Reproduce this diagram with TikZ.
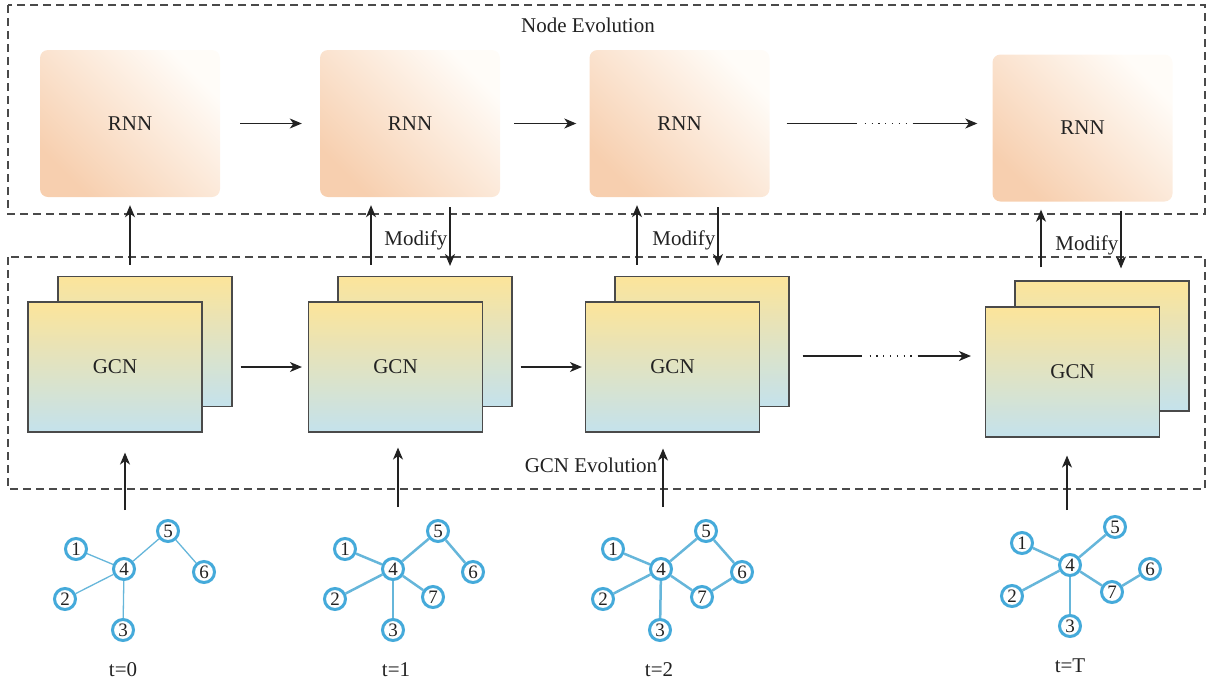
\documentclass[tikz,border=0pt]{standalone}
\usepackage{fontspec}
\setmainfont{Liberation Serif}
\usepackage{tikz}
\usetikzlibrary{arrows.meta,calc}
\usepackage{xcolor}
\definecolor{peach}{HTML}{F7CFAF}
\definecolor{peachlight}{HTML}{FFFCF8}
\definecolor{gcntop}{HTML}{FCE49A}
\definecolor{gcnbottom}{HTML}{C4E2EC}
\definecolor{boxgray}{HTML}{4A4A4A}
\definecolor{ringblue}{HTML}{45AADA}
\definecolor{edgeblue}{HTML}{66B6DA}
\definecolor{inkdark}{HTML}{222222}

\begin{document}
\begin{tikzpicture}[x=1pt, y=-1pt, font=\fontsize{21}{25}\selectfont, text=inkdark,
  rnn/.style={align=center, rounded corners=8pt, minimum width=180pt, minimum height=147pt,
    left color=peach, right color=peachlight, shading angle=135},
  gcn/.style={draw=boxgray, line width=1.1pt, minimum width=174pt, minimum height=130pt,
    top color=gcntop, bottom color=gcnbottom},
  vertex/.style={circle, draw=ringblue, line width=3pt, fill=white, inner sep=0pt,
    minimum size=21pt, font=\fontsize{19}{21}\selectfont},
  link/.style={draw=edgeblue, line width=2.5pt},
  thinlink/.style={draw=edgeblue, line width=1.3pt},
  frame/.style={draw=boxgray, line width=1.2pt, dash pattern=on 8pt off 5pt},
  transfer/.style={-{Stealth[length=12pt, width=10pt, inset=3.5pt]}, draw=inkdark, line width=1.3pt},
  dotgap/.style={dash pattern=on #1 off 8pt on 1.2pt off 5.6pt on 1.2pt off 5.6pt on 1.2pt off 5.6pt
    on 1.2pt off 5.6pt on 1.2pt off 5.6pt on 1.2pt off 5.6pt on 1.2pt off 6pt on 300pt},
]
\useasboundingbox (0,0) rectangle (1208,681);

\draw[frame] (8,5) rectangle (1205,214);
\draw[frame] (8,257) rectangle (1205,489);
\node (nodeevo) at (588,25) {Node Evolution};
\node (gcnevo) at (591,465) {GCN Evolution};

\node[rnn] (rnn1) at (130,123.5) {RNN};
\node[rnn] (rnn2) at (410,123.5) {RNN};
\node[rnn] (rnn3) at (679.5,123.5) {RNN};
\node[rnn] (rnn4) at (1082.5,128) {RNN};

\node[gcn] (gcnback1) at (145,341.5) {};
\node[gcn] (gcn1) at (115,367) {GCN};
\node[gcn] (gcnback2) at (425,341.5) {};
\node[gcn] (gcn2) at (395.5,367) {GCN};
\node[gcn] (gcnback3) at (702,341.5) {};
\node[gcn] (gcn3) at (672.5,367) {GCN};
\node[gcn] (gcnback4) at (1102,346) {};
\node[gcn] (gcn4) at (1072.5,372) {GCN};

\draw[transfer, shorten <=20pt, shorten >=18pt] (rnn1) -- (rnn2);
\draw[transfer, shorten <=14pt, shorten >=13pt] (rnn2) -- (rnn3);
\draw[transfer, dotgap=70pt, shorten <=17pt, shorten >=15pt] (rnn3) -- (rnn3 -| rnn4.west);

\draw[transfer, shorten <=8pt, shorten >=6pt] (gcnback1.east |- gcn1) -- (gcn2);
\draw[transfer, shorten <=8pt, shorten >=3pt] (gcnback2.east |- gcn2) -- (gcn3);
\draw[transfer, dotgap=59pt, shorten <=13pt, shorten >=14pt]
  ([yshift=-14.5pt]gcnback3.east) -- ([yshift=-14.5pt]gcnback3.east -| gcn4.west);

\coordinate (up2) at ([xshift=-39pt]rnn2.south);
\coordinate (dn2) at ([xshift=40pt]rnn2.south);
\coordinate (up3) at ([xshift=-42.5pt]rnn3.south);
\coordinate (dn3) at ([xshift=38.5pt]rnn3.south);
\coordinate (up4) at ([xshift=-41.5pt]rnn4.south);
\coordinate (dn4) at ([xshift=38.5pt]rnn4.south);

\draw[transfer, shorten <=11pt, shorten >=8pt] (gcnback1.north -| rnn1) -- (rnn1);
\draw[transfer, shorten <=11pt, shorten >=8pt] (up2 |- gcnback2.north) -- (up2);
\draw[transfer, shorten <=10pt, shorten >=10pt] (dn2) -- node [midway, left, yshift=-4pt, inner sep=2pt] {Modify} (dn2 |- gcnback2.north);
\draw[transfer, shorten <=11pt, shorten >=8pt] (up3 |- gcnback3.north) -- (up3);
\draw[transfer, shorten <=10pt, shorten >=10pt] (dn3) -- node [midway, left, yshift=-4pt, inner sep=2pt] {Modify} (dn3 |- gcnback3.north);
\draw[transfer, shorten <=13pt, shorten >=8pt] (up4 |- gcnback4.north) -- (up4);
\draw[transfer, shorten <=9pt, shorten >=12pt] (dn4) -- node [midway, left, yshift=-4pt, inner sep=2pt] {Modify} (dn4 |- gcnback4.north);

\node[vertex] (a1) at (76,549) {1};
\node[vertex] (a2) at (65,599) {2};
\node[vertex] (a3) at (123,630) {3};
\node[vertex] (a4) at (124,569) {4};
\node[vertex] (a5) at (168,531) {5};
\node[vertex] (a6) at (204,572) {6};
\node (lbl0) at (123,670) {t=0};

\node[vertex] (b1) at (345,549) {1};
\node[vertex] (b2) at (335,599) {2};
\node[vertex] (b3) at (393,630) {3};
\node[vertex] (b4) at (393,569) {4};
\node[vertex] (b5) at (438,531) {5};
\node[vertex] (b6) at (473,572) {6};
\node[vertex] (b7) at (433,597) {7};
\node (lbl1) at (396,670) {t=1};

\node[vertex] (c1) at (613,549) {1};
\node[vertex] (c2) at (603,599) {2};
\node[vertex] (c3) at (660,630) {3};
\node[vertex] (c4) at (661,569) {4};
\node[vertex] (c5) at (706,531) {5};
\node[vertex] (c6) at (742,572) {6};
\node[vertex] (c7) at (702,597) {7};
\node (lbl2) at (659,670) {t=2};

\node[vertex] (d1) at (1022,543) {1};
\node[vertex] (d2) at (1012,596) {2};
\node[vertex] (d3) at (1070,626) {3};
\node[vertex] (d4) at (1070,565) {4};
\node[vertex] (d5) at (1115,527) {5};
\node[vertex] (d6) at (1150,569) {6};
\node[vertex] (d7) at (1112,592) {7};
\node (lblT) at (1070,666) {t=T};

\draw[thinlink] (a1) -- (a4);
\draw[thinlink] (a2) -- (a4);
\draw[thinlink] (a3) -- (a4);
\draw[thinlink] (a4) -- (a5);
\draw[thinlink] (a5) -- (a6);

\draw[link] (b1) -- (b4);
\draw[link] (b2) -- (b4);
\draw[link] (b3) -- (b4);
\draw[link] (b4) -- (b5);
\draw[link] (b4) -- (b7);
\draw[link] (b5) -- (b6);

\draw[link] (c1) -- (c4);
\draw[link] (c2) -- (c4);
\draw[link] (c3) -- (c4);
\draw[link] (c4) -- (c5);
\draw[link] (c4) -- (c7);
\draw[link] (c5) -- (c6);
\draw[link] (c6) -- (c7);

\draw[link] (d1) -- (d4);
\draw[link] (d2) -- (d4);
\draw[link] (d3) -- (d4);
\draw[link] (d4) -- (d5);
\draw[link] (d4) -- (d7);
\draw[link] (d7) -- (d6);

\coordinate (in1) at (125,510);
\coordinate (in2) at (398,507);
\coordinate (in3) at (663,507);
\coordinate (in4) at (1067,510);
\draw[transfer, shorten >=20pt] (in1) -- (in1 |- gcn1.south);
\draw[transfer, shorten >=15pt] (in2) -- (in2 |- gcn2.south);
\draw[transfer, shorten >=16pt] (in3) -- (in3 |- gcn3.south);
\draw[transfer, shorten >=18pt] (in4) -- (in4 |- gcn4.south);
\end{tikzpicture}
\end{document}
